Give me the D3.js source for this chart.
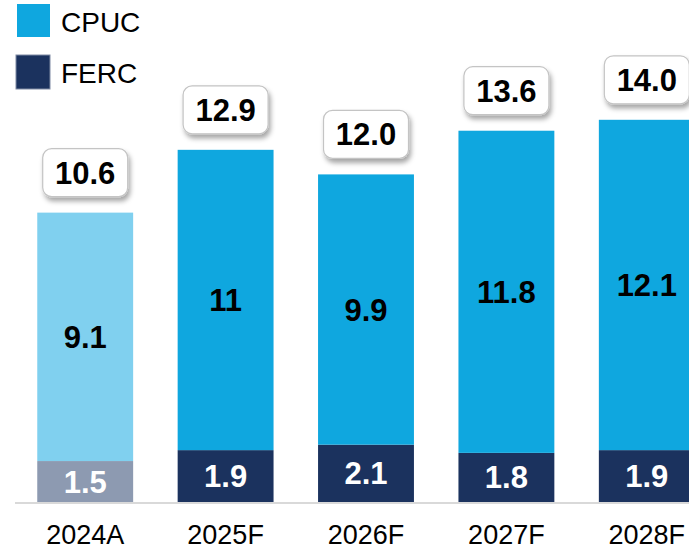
<!DOCTYPE html>
<html>
<head>
<meta charset="utf-8">
<script src="https://cdn.jsdelivr.net/npm/d3@7"></script>
<style>
  body { margin: 0; background: #fff; }
  svg { display: block; font-family: "Liberation Sans", Arial, sans-serif; }
</style>
</head>
<body>
<svg id="chart" width="689" height="549"></svg>
<script>
// chart data
var categories = ['2024A', '2025F', '2026F', '2027F', '2028F'];
var ferc = [1.5, 1.9, 2.1, 1.8, 1.9];
var cpuc = [9.1, 11, 9.9, 11.8, 12.1];
var totals = ['10.6', '12.9', '12.0', '13.6', '14.0'];
var totalValues = [10.6, 12.9, 12.0, 13.6, 14.0];
var actualIndex = 0; // the first bar is actual, drawn in lighter tones

var colors = {
    cpuc: '#0fa7df', ferc: '#1b325e',
    cpucActual: '#80d0ef', fercActual: '#8d9ab1'
};

var svg = d3.select('#chart');

var x = d3.scaleBand()
    .domain(categories)
    .range([15, 717])
    .paddingInner(0.317)
    .paddingOuter(0.1585);

var y = d3.scaleLinear()
    .domain([0, 14])
    .range([502, 119.8]);

// drop shadow for total boxes
var defs = svg.append('defs');
var filter = defs.append('filter')
    .attr('id', 'shadow')
    .attr('x', '-20%').attr('y', '-20%')
    .attr('width', '150%').attr('height', '160%');
filter.append('feDropShadow')
    .attr('dx', 2).attr('dy', 4)
    .attr('stdDeviation', 2.5)
    .attr('flood-color', '#000')
    .attr('flood-opacity', 0.35);

// baseline
svg.append('line')
    .attr('x1', 15).attr('x2', 689)
    .attr('y1', y(0) + 1).attr('y2', y(0) + 1)
    .attr('stroke', '#d9d9d9')
    .attr('stroke-width', 2);

var rows = categories.map(function (c, i) {
    return {cat: c, ferc: ferc[i], cpuc: cpuc[i], total: totals[i], totalValue: totalValues[i], actual: i === actualIndex};
});

var g = svg.selectAll('.bar').data(rows)
    .enter()
    .append('g')
    .attr('class', 'bar');

// FERC segment
g.append('rect')
    .attr('x', function (d) { return x(d.cat); })
    .attr('width', x.bandwidth())
    .attr('y', function (d) { return y(d.ferc); })
    .attr('height', function (d) { return y(0) - y(d.ferc); })
    .attr('fill', function (d) { return d.actual ? colors.fercActual : colors.ferc; });

// CPUC segment
g.append('rect')
    .attr('x', function (d) { return x(d.cat); })
    .attr('width', x.bandwidth())
    .attr('y', function (d) { return y(d.ferc + d.cpuc); })
    .attr('height', function (d) { return y(d.ferc) - y(d.ferc + d.cpuc); })
    .attr('fill', function (d) { return d.actual ? colors.cpucActual : colors.cpuc; });

// segment labels
g.append('text')
    .attr('x', function (d) { return x(d.cat) + x.bandwidth() / 2; })
    .attr('y', function (d) { return (y(0) + y(d.ferc)) / 2 + 11; })
    .attr('text-anchor', 'middle')
    .attr('font-size', 31)
    .attr('font-weight', 'bold')
    .attr('fill', '#fff')
    .text(function (d) { return d.ferc; });

g.append('text')
    .attr('x', function (d) { return x(d.cat) + x.bandwidth() / 2; })
    .attr('y', function (d) { return (y(d.ferc) + y(d.ferc + d.cpuc)) / 2 + 11; })
    .attr('text-anchor', 'middle')
    .attr('font-size', 31)
    .attr('font-weight', 'bold')
    .attr('fill', '#000')
    .text(function (d) { return d.cpuc; });

// total boxes
var boxW = 85, boxH = 48;
g.append('rect')
    .attr('x', function (d) { return x(d.cat) + x.bandwidth() / 2 - boxW / 2; })
    .attr('y', function (d) { return y(d.totalValue) - 16 - boxH; })
    .attr('width', boxW)
    .attr('height', boxH)
    .attr('rx', 9)
    .attr('fill', '#fff')
    .attr('stroke', '#c4c4c4')
    .attr('stroke-width', 1.2)
    .attr('filter', 'url(#shadow)');

g.append('text')
    .attr('x', function (d) { return x(d.cat) + x.bandwidth() / 2; })
    .attr('y', function (d) { return y(d.totalValue) - 16 - boxH / 2 + 11; })
    .attr('text-anchor', 'middle')
    .attr('font-size', 31)
    .attr('font-weight', 'bold')
    .attr('fill', '#000')
    .text(function (d) { return d.total; });

// x axis labels
svg.append('g')
    .attr('transform', 'translate(0,' + y(0) + ')')
    .call(d3.axisBottom(x).tickSize(0).tickPadding(0))
    .call(function (a) { a.select('.domain').remove(); })
    .selectAll('text')
    .attr('dy', 0)
    .attr('y', 42)
    .attr('font-size', 27)
    .attr('font-family', '"Liberation Sans", Arial, sans-serif')
    .attr('fill', '#000');

// legend
var legend = [
    {name: 'CPUC', color: colors.cpuc, x: 17, y: 4, size: 33, ty: 32},
    {name: 'FERC', color: colors.ferc, x: 16, y: 55, size: 34, ty: 83}
];
var lg = svg.selectAll('.legend').data(legend)
    .enter()
    .append('g')
    .attr('class', 'legend');
lg.append('rect')
    .attr('x', function (d) { return d.x; })
    .attr('y', function (d) { return d.y; })
    .attr('width', function (d) { return d.size; })
    .attr('height', function (d) { return d.size; })
    .attr('fill', function (d) { return d.color; })
    .attr('stroke', function (d) { return d.name === 'FERC' ? '#7f8aa3' : 'none'; })
    .attr('stroke-width', 1);
lg.append('text')
    .attr('x', 61)
    .attr('y', function (d) { return d.ty; })
    .attr('font-size', 28)
    .attr('fill', '#000')
    .text(function (d) { return d.name; });
</script>
</body>
</html>
